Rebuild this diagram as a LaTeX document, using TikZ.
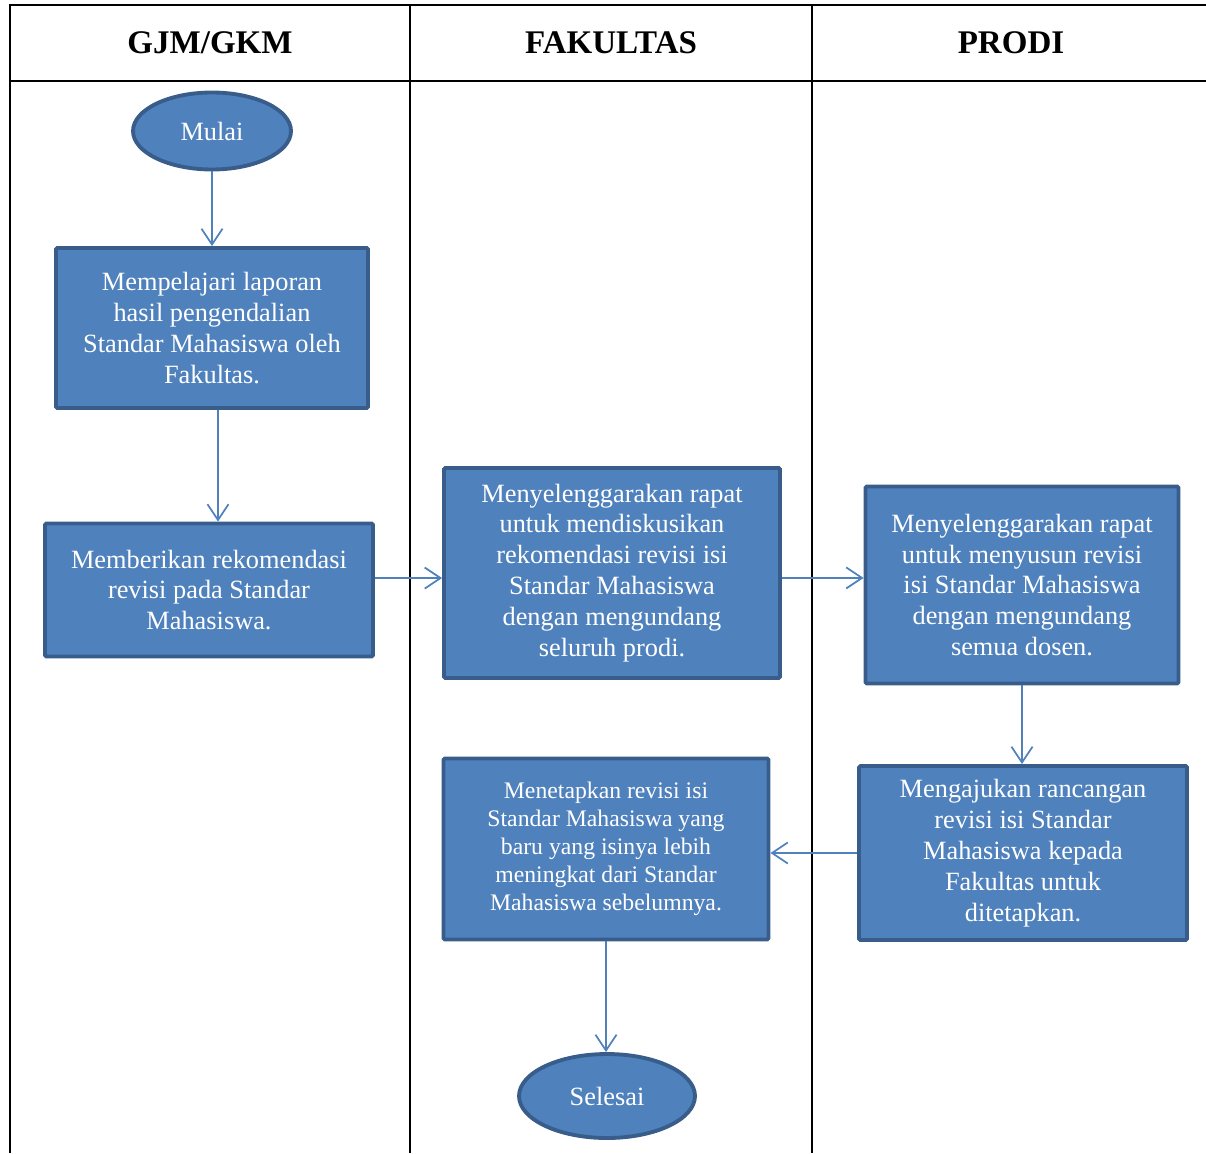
\documentclass[tikz,border=0pt]{standalone}
\usepackage{fontspec}
\setmainfont{Liberation Serif}
\usepackage{tikz}
\usetikzlibrary{arrows.meta,calc,positioning,shapes.geometric}
\definecolor{boxfill}{HTML}{4F81BD}
\definecolor{boxline}{HTML}{385D8A}

\begin{document}
\begin{tikzpicture}[x=0.02cm,y=-0.02cm,
  proc/.style={draw=boxline,line width=2.2pt,fill=boxfill,text=white,align=center,
               rounded corners=0.8pt,inner sep=2pt,font=\fontsize{15}{17.6}\selectfont},
  term/.style={ellipse,draw=boxline,line width=2.2pt,fill=boxfill,text=white,inner sep=0pt,
               font=\fontsize{15}{17.6}\selectfont},
  flow/.style={draw=boxfill,line width=1pt,-{Straight Barb[length=9pt,width=12pt]}},
  lane/.style={line width=1.1pt},
  head/.style={font=\bfseries\fontsize{18.8}{22}\selectfont}]
\useasboundingbox (0,0) rectangle (1206,1153);
% swimlanes
\draw[lane] (1206,5) -- (10,5) -- (10,1153);
\draw[lane] (10,81) -- (1206,81);
\foreach \xs in {410,812} \draw[lane] (\xs,5) -- (\xs,1153);
\node[head] (hgjm) at (210,43) {GJM/GKM};
\node[head] (hfak) at (611,43) {FAKULTAS};
\node[head] (hprodi) at (1011,43) {PRODI};

% steps
\node[term,minimum width=3.16cm,minimum height=1.54cm] (mulai) at (212,131) {Mulai};
\node[proc,minimum width=6.24cm,minimum height=3.2cm] (pelajari) at (212,328)
  {Mempelajari laporan\\hasil pengendalian\\Standar Mahasiswa oleh\\Fakultas.};
\node[proc,minimum width=6.56cm,minimum height=2.66cm] (rekom) at (209,590)
  {Memberikan rekomendasi\\revisi pada Standar\\Mahasiswa.};
\node[proc,minimum width=6.72cm,minimum height=4.2cm] (diskusi) at (612,573)
  {Menyelenggarakan rapat\\untuk mendiskusikan\\rekomendasi revisi isi\\Standar Mahasiswa\\dengan mengundang\\seluruh prodi.};
\node[proc,minimum width=6.26cm,minimum height=3.94cm] (susun) at (1022,585)
  {Menyelenggarakan rapat\\untuk menyusun revisi\\isi Standar Mahasiswa\\dengan mengundang\\semua dosen.};
\node[proc,minimum width=6.56cm,minimum height=3.48cm] (ajukan) at (1023,853)
  {Mengajukan rancangan\\revisi isi Standar\\Mahasiswa kepada\\Fakultas untuk\\ditetapkan.};
\node[proc,minimum width=6.5cm,minimum height=3.62cm,font=\fontsize{13.5}{15.9}\selectfont] (tetapkan) at (606,849)
  {Menetapkan revisi isi\\Standar Mahasiswa yang\\baru yang isinya lebih\\meningkat dari Standar\\Mahasiswa sebelumnya.};
\node[term,minimum width=3.52cm,minimum height=1.68cm] (selesai) at (607,1096) {Selesai};

% connectors
\draw[flow] (mulai) -- (pelajari);
\draw[flow] ([xshift=3.4pt]pelajari.south) -- ([xshift=3.4pt]pelajari.south |- rekom.north);
\draw[flow] ([yshift=6.8pt]rekom.east) -- ([yshift=6.8pt]rekom.east -| diskusi.west);
\draw[flow] ([yshift=-2.8pt]diskusi.east) -- ([yshift=-2.8pt]diskusi.east -| susun.west);
\draw[flow] (susun.south) -- (susun.south |- ajukan.north);
\draw[flow] (ajukan.west) -- (ajukan.west -| tetapkan.east);
\draw[flow] (tetapkan.south) -- (tetapkan.south |- selesai.north);
\end{tikzpicture}
\end{document}
